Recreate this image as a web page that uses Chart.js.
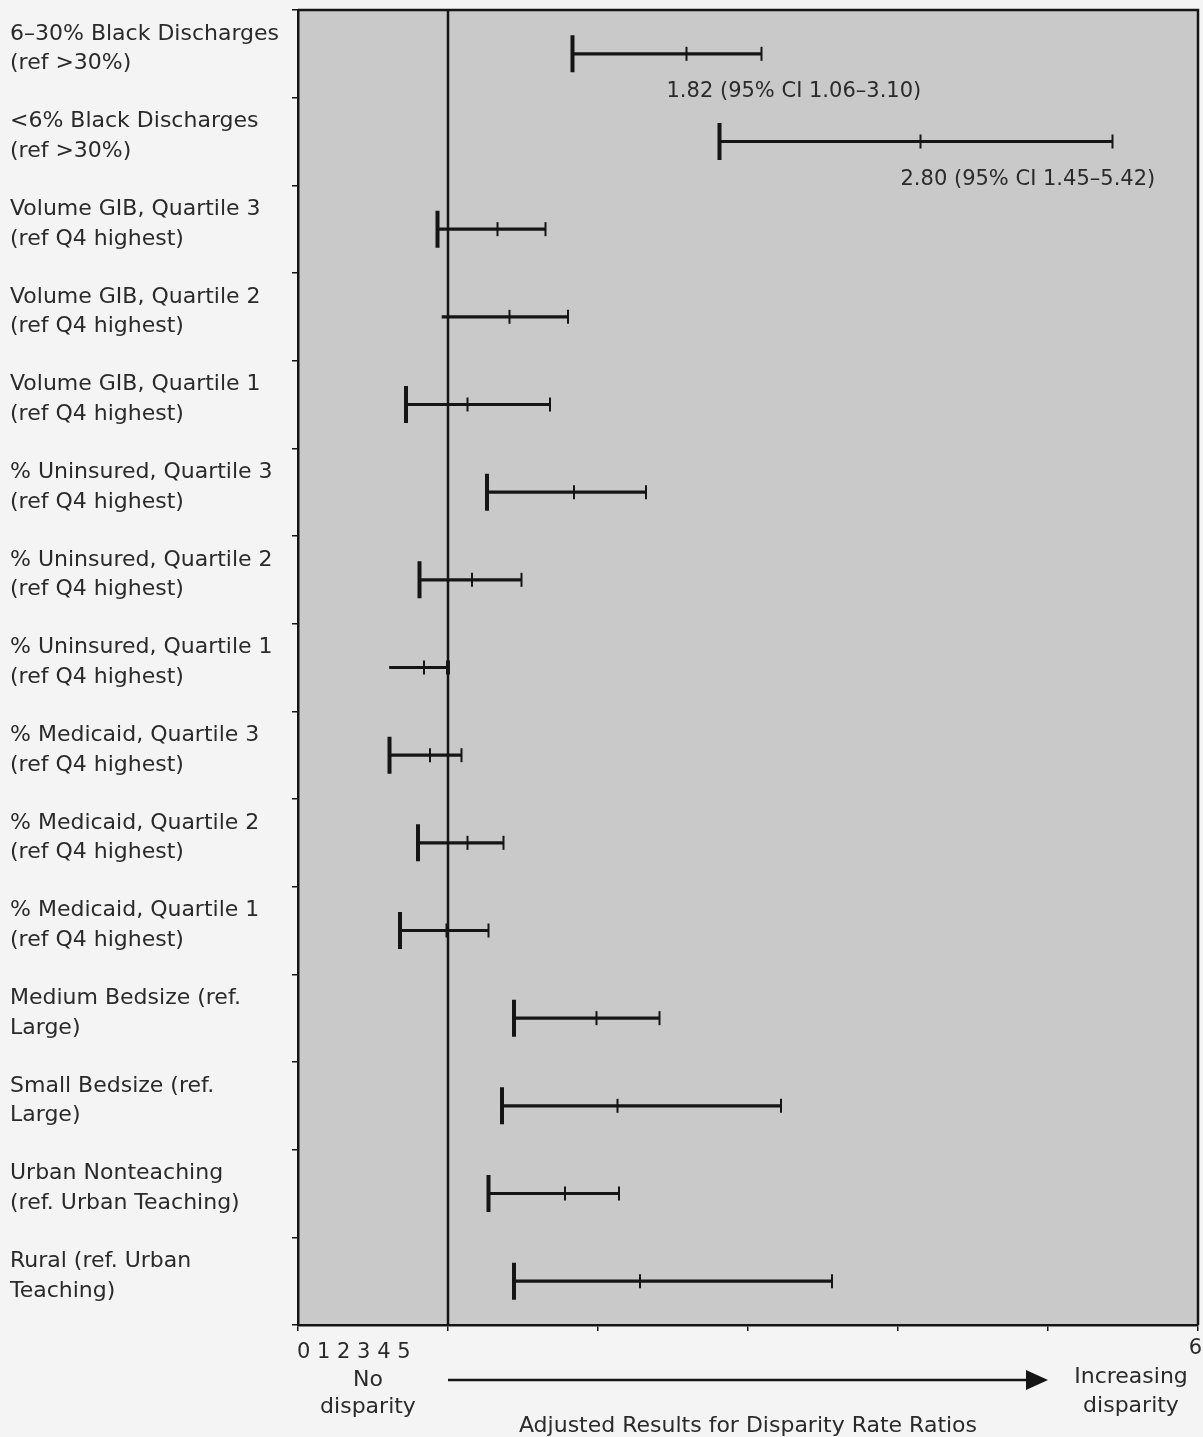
<!DOCTYPE html>
<html>
<head>
<meta charset="utf-8">
<title>Adjusted Results for Disparity Rate Ratios</title>
<script src="https://cdn.jsdelivr.net/npm/chart.js@4.4.0/dist/chart.umd.min.js"></script>
<style>
  html, body { margin: 0; padding: 0; background: #f4f4f4; }
  #wrap { width: 1203px; height: 1437px; position: relative; }
</style>
</head>
<body>
<div id="wrap"><canvas id="forest"></canvas></div>
<script>
// rows, top to bottom
const categories = [
  ['6–30% Black Discharges', '(ref >30%)'],
  ['<6% Black Discharges', '(ref >30%)'],
  ['Volume GIB, Quartile 3', '(ref Q4 highest)'],
  ['Volume GIB, Quartile 2', '(ref Q4 highest)'],
  ['Volume GIB, Quartile 1', '(ref Q4 highest)'],
  ['% Uninsured, Quartile 3', '(ref Q4 highest)'],
  ['% Uninsured, Quartile 2', '(ref Q4 highest)'],
  ['% Uninsured, Quartile 1', '(ref Q4 highest)'],
  ['% Medicaid, Quartile 3', '(ref Q4 highest)'],
  ['% Medicaid, Quartile 2', '(ref Q4 highest)'],
  ['% Medicaid, Quartile 1', '(ref Q4 highest)'],
  ['Medium Bedsize (ref.', 'Large)'],
  ['Small Bedsize (ref.', 'Large)'],
  ['Urban Nonteaching', '(ref. Urban Teaching)'],
  ['Rural (ref. Urban', 'Teaching)']
];

// values as plotted on the 0-6 axis
const lower    = [1.83, 2.81, 0.93, 0.96, 0.72, 1.26, 0.81, 0.61, 0.61, 0.80, 0.68, 1.44, 1.36, 1.27, 1.44];
const estimate = [2.59, 4.15, 1.33, 1.41, 1.13, 1.84, 1.16, 0.84, 0.88, 1.13, 0.99, 1.99, 2.13, 1.78, 2.28];
const upper    = [3.09, 5.43, 1.65, 1.80, 1.68, 2.32, 1.49, 1.00, 1.09, 1.37, 1.27, 2.41, 3.22, 2.14, 3.56];

const ciNotes = ['1.82 (95% CI 1.06–3.10)', '2.80 (95% CI 1.45–5.42)'];
const xTickLabels = ['0', '1', '2', '3', '4', '5', '6'];
const noDisparity = 1;
const arrowEnd = 5;

// rows drawn without the heavy left cap / with a heavy right cap
const noLeftCap = [3, 7];
const heavyRightCap = [7];

const FONT = '"DejaVu Sans", sans-serif';
const INK = '#151515';
const TEXT = '#2a2a2a';

const pts = arr => arr.map((v, i) => ({ x: v, y: i }));

const frame = {
  id: 'frame',
  beforeDraw(chart) {
    const { ctx, chartArea: a } = chart;
    ctx.save();
    ctx.fillStyle = '#f4f4f4';
    ctx.fillRect(0, 0, chart.width, chart.height);
    ctx.fillStyle = '#c9c9c9';
    ctx.fillRect(a.left, a.top, a.right - a.left, a.bottom - a.top);
    ctx.restore();
  },
  beforeDatasetsDraw(chart) {
    const { ctx, chartArea: a, scales: { x } } = chart;
    const px = x.getPixelForValue(noDisparity);
    ctx.save();
    ctx.strokeStyle = INK;
    ctx.lineWidth = 2.5;
    ctx.beginPath();
    ctx.moveTo(px, a.top);
    ctx.lineTo(px, a.bottom);
    ctx.stroke();
    ctx.restore();
  },
  afterDraw(chart) {
    const { ctx, chartArea: a, scales: { x, y } } = chart;
    ctx.save();

    // top and right edges of the frame
    ctx.strokeStyle = INK;
    ctx.lineWidth = 2.5;
    ctx.beginPath();
    ctx.moveTo(a.left, a.top);
    ctx.lineTo(a.right, a.top);
    ctx.lineTo(a.right, a.bottom);
    ctx.stroke();

    // CI notes under the first two rows
    ctx.fillStyle = TEXT;
    ctx.font = '21px ' + FONT;
    ctx.textBaseline = 'middle';
    ctx.textAlign = 'left';
    ciNotes.forEach((t, i) => {
      if (!t) return;
      ctx.fillText(t, x.getPixelForValue(estimate[i]) - 20, y.getPixelForValue(i) + 38);
    });

    // x tick labels, set the way the original has them
    ctx.font = '21px ' + FONT;
    ctx.textAlign = 'left';
    ctx.fillText(xTickLabels.slice(0, 6).join(' '), x.getPixelForValue(0) - 1, 1353);
    ctx.textAlign = 'right';
    ctx.fillText(xTickLabels[6], chart.width - 1, 1349);

    // end labels
    ctx.textAlign = 'center';
    ctx.font = '22px ' + FONT;
    ctx.fillText('No', 368, 1380);
    ctx.fillText('disparity', 368, 1407);
    ctx.fillText('Increasing', 1131, 1377);
    ctx.fillText('disparity', 1131, 1406);

    // arrow
    const x0 = x.getPixelForValue(noDisparity);
    const x1 = x.getPixelForValue(arrowEnd);
    const ay = 1380;
    ctx.lineWidth = 2.5;
    ctx.beginPath();
    ctx.moveTo(x0, ay);
    ctx.lineTo(x1 - 18, ay);
    ctx.stroke();
    ctx.fillStyle = INK;
    ctx.beginPath();
    ctx.moveTo(x1 - 22, ay - 10);
    ctx.lineTo(x1, ay);
    ctx.lineTo(x1 - 22, ay + 10);
    ctx.closePath();
    ctx.fill();

    ctx.restore();
  }
};

const capLine = {
  type: 'line',
  indexAxis: 'y',
  showLine: false,
  pointStyle: 'line',
  pointRotation: 90,
  pointBorderColor: INK,
  pointBackgroundColor: INK
};

new Chart(document.getElementById('forest'), {
  type: 'bar',
  data: {
    labels: categories,
    datasets: [
      {
        label: '95% CI',
        indexAxis: 'y',
        data: lower.map((l, i) => [l, upper[i]]),
        backgroundColor: INK,
        borderWidth: 0,
        barThickness: 2.5,
        grouped: false
      },
      Object.assign({}, capLine, {
        label: 'lower',
        data: pts(lower),
        pointRadius: c => noLeftCap.includes(c.dataIndex) ? 0 : 18.5,
        pointBorderWidth: 4
      }),
      Object.assign({}, capLine, {
        label: 'upper',
        data: pts(upper),
        pointRadius: 7,
        pointBorderWidth: c => heavyRightCap.includes(c.dataIndex) ? 4 : 2
      }),
      Object.assign({}, capLine, {
        label: 'rate ratio',
        data: pts(estimate),
        pointRadius: 7,
        pointBorderWidth: 2
      })
    ]
  },
  options: {
    indexAxis: 'y',
    responsive: true,
    maintainAspectRatio: false,
    animation: false,
    events: [],
    layout: { autoPadding: false, padding: { top: 10, right: 5, bottom: 0, left: 10 } },
    plugins: {
      legend: { display: false },
      tooltip: { enabled: false }
    },
    scales: {
      x: {
        type: 'linear',
        position: 'bottom',
        min: 0,
        max: 6,
        ticks: { display: false, stepSize: 1 },
        grid: { drawOnChartArea: false, drawTicks: true, tickLength: 6, color: INK, lineWidth: 1.5 },
        border: { color: INK, width: 2.5 },
        title: {
          display: true,
          text: 'Adjusted Results for Disparity Rate Ratios',
          color: TEXT,
          font: { family: FONT, size: 22 },
          padding: { top: 0, bottom: -2 }
        },
        afterFit(s) { s.height = 112; s.paddingLeft = 0; s.paddingRight = 0; }
      },
      y: {
        type: 'category',
        position: 'left',
        offset: true,
        ticks: {
          crossAlign: 'far',
          autoSkip: false,
          padding: 0,
          labelOffset: -5,
          color: TEXT,
          font: { family: FONT, size: 22, lineHeight: 1.35 }
        },
        grid: { drawOnChartArea: false, drawTicks: true, tickLength: 6, color: INK, lineWidth: 1.5, offset: true },
        border: { color: INK, width: 2.5 },
        afterFit(s) { s.width = 288; s.paddingTop = 0; s.paddingBottom = 0; }
      }
    }
  },
  plugins: [frame]
});
</script>
</body>
</html>
